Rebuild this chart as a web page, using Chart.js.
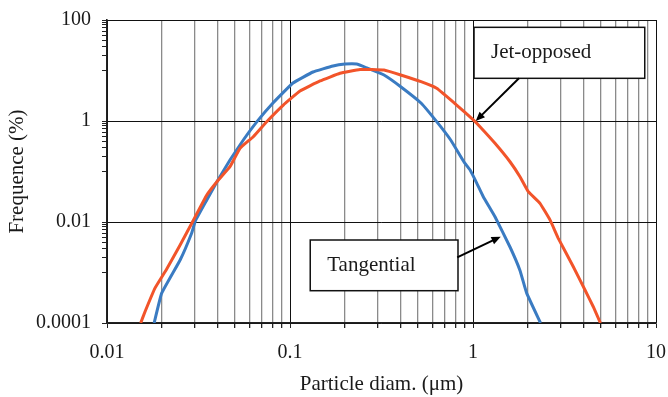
<!DOCTYPE html>
<html>
<head>
<meta charset="utf-8">
<script src="https://cdn.jsdelivr.net/npm/chart.js@4/dist/chart.umd.min.js"></script>
<style>
  html, body { margin: 0; padding: 0; background: #fff; }
  #wrap { width: 668px; height: 397px; position: relative; }
</style>
</head>
<body>
<div id="wrap"><canvas id="chart"></canvas></div>
<script>
// Tangential (blue)
const tangX = [0.0181, 0.0199, 0.0251, 0.0290, 0.0304, 0.0351, 0.0401, 0.0470, 0.0556, 0.066,
  0.0807, 0.1038, 0.1336, 0.1718, 0.1998, 0.2314, 0.2635, 0.3264, 0.4027, 0.5197,
  0.6332, 0.7552, 0.893, 0.964, 1.048, 1.138, 1.319, 1.593, 1.806, 1.965, 2.338]
const tangY = [0.0001, 0.00039, 0.00177, 0.006, 0.0105, 0.0273, 0.065, 0.169, 0.42, 0.97,
  2.27, 5.65, 9.34, 12.3, 13.4, 13.4, 11.2, 8.15, 4.78, 2.27,
  0.97, 0.42, 0.154, 0.107, 0.059, 0.0317, 0.0127, 0.0032, 0.0011, 0.00039, 0.0001]

// Jet-opposed (orange)
const jetX = [0.01528, 0.01613, 0.01829, 0.0212, 0.0251, 0.0295, 0.0351, 0.0406, 0.047, 0.0533,
  0.063, 0.0746, 0.0919, 0.1134, 0.1459, 0.1876, 0.2413, 0.3264, 0.4027, 0.52,
  0.633, 0.814, 1.004, 1.092, 1.319, 1.593, 1.806, 2.006, 2.323, 2.635,
  2.925, 3.533, 4.093, 4.542, 4.97]
const jetY = [0.0001, 0.000167, 0.00049, 0.00117, 0.0035, 0.0105, 0.0343, 0.068, 0.1245, 0.288,
  0.489, 0.97, 2.07, 3.93, 6.2, 8.8, 10.5, 10.2, 8.15, 6.0,
  4.44, 2.07, 1.05, 0.771, 0.362, 0.156, 0.0789, 0.0398, 0.0234, 0.011,
  0.00475, 0.0013, 0.00045, 0.00021, 0.0001]

// tick labels
const xLabels = [0.01, 0.1, 1, 10]
const yLabels = [100, 1, 0.01, 0.0001]

// grid/tick positions: every 1..9 per decade on x, base-100 minors on y
const xTicks = []
for (let e = -2; e <= 0; e++) for (let k = 1; k <= 9; k++) xTicks.push(+(k * 10 ** e).toPrecision(3))
xTicks.push(10)
const yTicks = [0.0001]
for (const e of [-3, -1, 1]) for (let k = 1; k <= 9; k++) yTicks.push(+(k * 10 ** e).toPrecision(3))
yTicks.push(0.01, 1, 100)

const isLabel = (list, v) => list.some(l => Math.abs(l - v) / l < 1e-6)
const toPoints = (xs, ys) => xs.map((x, i) => ({ x, y: ys[i] }))

const FONT = 'Liberation Serif'
const TEXT = '#1a1a1a'

// annotation boxes and arrows, placed in data space
const notes = [
  { text: 'Jet-opposed', box: [1.013, 8.68, 71.6, 7.0], arrow: [1.783, 7.0, 1.035, 1.0] },
  { text: 'Tangential', box: [0.129, 0.828, 0.0044, 0.000436], arrow: [0.820, 0.002, 1.417, 0.00512] },
]

const notePlugin = {
  id: 'notes',
  afterDraw(chart) {
    const { ctx, scales: { x, y } } = chart
    ctx.save()
    notes.forEach(n => {
      const l = x.getPixelForValue(n.box[0]), r = x.getPixelForValue(n.box[1])
      const t = y.getPixelForValue(n.box[2]), b = y.getPixelForValue(n.box[3])
      ctx.fillStyle = '#fff'
      ctx.fillRect(l, t, r - l, b - t)
      ctx.strokeStyle = '#111'
      ctx.lineWidth = 1.5
      ctx.strokeRect(l, t, r - l, b - t)
      ctx.fillStyle = TEXT
      ctx.font = `21px "${FONT}"`
      ctx.textBaseline = 'middle'
      ctx.textAlign = 'left'
      ctx.fillText(n.text, l + 17, (t + b) / 2)

      // arrow
      const x1 = x.getPixelForValue(n.arrow[0]), y1 = y.getPixelForValue(n.arrow[1])
      const x2 = x.getPixelForValue(n.arrow[2]), y2 = y.getPixelForValue(n.arrow[3])
      const ang = Math.atan2(y2 - y1, x2 - x1)
      const head = 10
      ctx.strokeStyle = '#000'
      ctx.lineWidth = 2
      ctx.beginPath()
      ctx.moveTo(x1, y1)
      ctx.lineTo(x2 - Math.cos(ang) * head * 0.8, y2 - Math.sin(ang) * head * 0.8)
      ctx.stroke()
      ctx.fillStyle = '#000'
      ctx.beginPath()
      ctx.moveTo(x2, y2)
      ctx.lineTo(x2 - head * Math.cos(ang - 0.4), y2 - head * Math.sin(ang - 0.4))
      ctx.lineTo(x2 - head * Math.cos(ang + 0.4), y2 - head * Math.sin(ang + 0.4))
      ctx.closePath()
      ctx.fill()
    })
    ctx.restore()
  },
}

new Chart(document.getElementById('chart'), {
  type: 'line',
  data: {
    datasets: [
      {
        label: 'Jet-opposed',
        data: toPoints(jetX, jetY),
        borderColor: '#f2542a',
        borderWidth: 3,
        pointRadius: 0,
        tension: 0.1,
        fill: false,
      },
      {
        label: 'Tangential',
        data: toPoints(tangX, tangY),
        borderColor: '#3a7bc2',
        borderWidth: 3,
        pointRadius: 0,
        tension: 0.1,
        fill: false,
      },
    ],
  },
  options: {
    responsive: true,
    maintainAspectRatio: false,
    animation: false,
    layout: { padding: { top: 20, right: 12, left: 0, bottom: 0 } },
    plugins: { legend: { display: false }, tooltip: { enabled: false } },
    scales: {
      x: {
        type: 'logarithmic',
        min: 0.01,
        max: 10,
        afterBuildTicks(scale) { scale.ticks = xTicks.map(v => ({ value: v })) },
        afterFit(scale) {
          scale.height = 74
          scale.paddingLeft = 0
          scale.paddingRight = 0
        },
        ticks: {
          autoSkip: false,
          maxRotation: 0,
          padding: 13,
          color: TEXT,
          font: { family: FONT, size: 20 },
          callback: v => (isLabel(xLabels, v) ? String(v) : ''),
        },
        grid: {
          color: c => (isLabel(xLabels, c.tick.value) ? '#111' : '#8a8a8a'),
          lineWidth: c => (isLabel(xLabels, c.tick.value) ? 1 : 1.3),
          tickColor: '#222',
          tickLength: 5,
        },
        border: { color: '#222', width: 1.6 },
        title: {
          display: true,
          text: 'Particle diam. (μm)',
          color: TEXT,
          font: { family: FONT, size: 21 },
          padding: { top: 0, bottom: 0 },
        },
      },
      y: {
        type: 'logarithmic',
        min: 0.0001,
        max: 100,
        afterBuildTicks(scale) { scale.ticks = yTicks.map(v => ({ value: v })) },
        afterFit(scale) {
          scale.width = 107
          scale.paddingTop = 0
          scale.paddingBottom = 0
        },
        ticks: {
          autoSkip: false,
          padding: 11,
          color: TEXT,
          font: { family: FONT, size: 20 },
          callback: v => (isLabel(yLabels, v) ? String(v) : ''),
        },
        grid: {
          color: c => (isLabel(yLabels, c.tick.value) ? '#111' : 'rgba(0,0,0,0)'),
          tickColor: '#222',
          tickLength: 5,
        },
        border: { color: '#222', width: 1.6 },
        title: {
          display: true,
          text: 'Frequence (%)',
          color: TEXT,
          font: { family: FONT, size: 21 },
          padding: { top: 5, bottom: 0 },
        },
      },
    },
  },
  plugins: [notePlugin],
})
</script>
</body>
</html>
